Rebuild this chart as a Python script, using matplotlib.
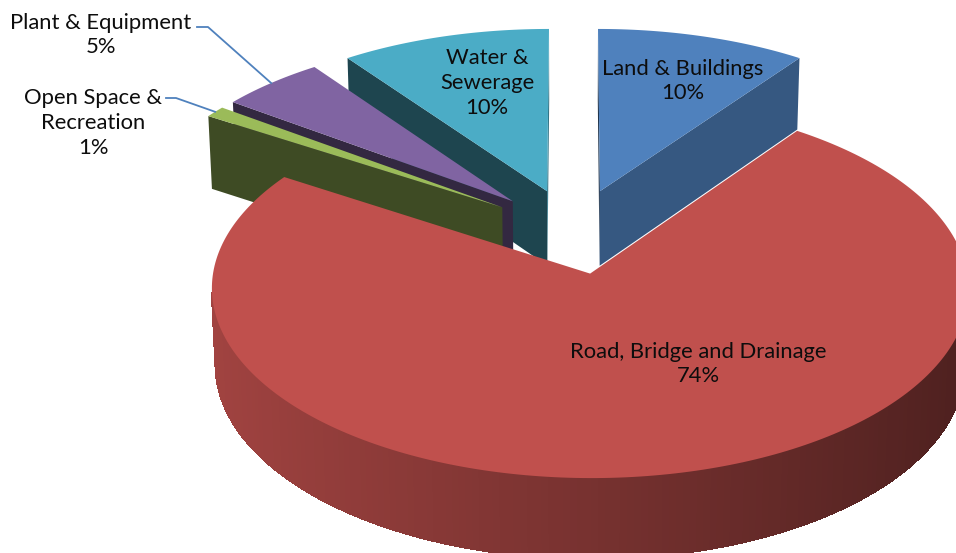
import numpy as np
import matplotlib.pyplot as plt
from matplotlib.patches import Polygon
from matplotlib.colors import to_rgb

# Data
categories = ["Land & Buildings", "Road, Bridge and Drainage",
              "Open Space &\nRecreation", "Plant & Equipment", "Water &\nSewerage"]
shares = [10, 74, 1, 5, 10]
colors = ["#4F81BD", "#C0504D", "#9BBB59", "#8064A2", "#4BACC6"]

# label layout (pixel centres) and leader elbows for outside labels
label_pos = [(683, 81), (698, 364), (93, 123), (101, 35), (487, 83)]
leaders = {2: [(166, 98), (176, 98)], 3: [(197, 27), (208, 27)]}

W, H = 956, 553

# simple perspective camera for the 3D pie (pie radius = 1)
elev = np.radians(29.3)
dist = 11.0
focal = 4072
x0, y0 = 573.5, 231
explode = 0.235
thick = 0.236

cam = np.array([0.0, -dist * np.cos(elev), dist * np.sin(elev)])
fwd = np.array([0.0, np.cos(elev), -np.sin(elev)])
up = np.array([0.0, np.sin(elev), np.cos(elev)])


def project(pts):
    pts = np.atleast_2d(pts)
    rel = pts - cam
    d = rel @ fwd
    return np.column_stack([x0 + focal * rel[:, 0] / d, y0 - focal * (rel @ up) / d])


def facing(normal, point):
    return np.dot(cam - point, normal) > 0


def shade(c, f):
    return tuple(np.array(to_rgb(c)) * f)


fig = plt.figure(figsize=(W / 100, H / 100), dpi=100)
ax = fig.add_axes([0, 0, 1, 1])
ax.set_xlim(0, W)
ax.set_ylim(H, 0)
ax.axis("off")

fracs = np.array(shares) / sum(shares)
bounds = np.concatenate([[0], np.cumsum(fracs)]) * 2 * np.pi

slices = []
for i in range(len(shares)):
    t0, t1 = bounds[i], bounds[i + 1]
    tm = (t0 + t1) / 2
    c = explode * np.array([np.sin(tm), np.cos(tm), 0.0])
    slices.append((i, t0, t1, c))
# far slices first
slices.sort(key=lambda s: -((s[3] - cam) @ fwd))

dz = np.array([0, 0, -thick])
for i, t0, t1, c in slices:
    n = max(int((t1 - t0) / np.radians(1)), 2)
    th = np.linspace(t0, t1, n + 1)
    rim = c + np.column_stack([np.sin(th), np.cos(th), np.zeros_like(th)])

    # radial cut faces
    for p, nrm in [(rim[0], np.array([-np.cos(t0), np.sin(t0), 0])),
                   (rim[-1], np.array([np.cos(t1), -np.sin(t1), 0]))]:
        quad = np.array([c, p, p + dz, c + dz])
        if facing(nrm, quad.mean(axis=0)):
            f = 0.68 if nrm[0] > 0 else 0.40
            ax.add_patch(Polygon(project(quad), closed=True,
                                 fc=shade(colors[i], f), ec="none"))

    # outer wall, shaded left (light) to right (dark)
    for j in range(n):
        tmj = (th[j] + th[j + 1]) / 2
        nrm = np.array([np.sin(tmj), np.cos(tmj), 0])
        quad = np.array([rim[j], rim[j + 1], rim[j + 1] + dz, rim[j] + dz])
        if facing(nrm, quad.mean(axis=0)):
            col = shade(colors[i], 0.62 - 0.22 * np.sin(tmj))
            ax.add_patch(Polygon(project(quad), closed=True, fc=col, ec=col,
                                 lw=1.0, antialiased=False))

    top = np.vstack([c, rim])
    ax.add_patch(Polygon(project(top), closed=True, fc=colors[i], ec="none"))

# labels
for i, (x, y) in enumerate(label_pos):
    ax.text(x, y, f"{categories[i]}\n{shares[i]}%", ha="center", va="center",
            fontsize=15.8, family="Lato", linespacing=1.3, color="#0d0d0d")

# leader lines to the small slices
for i, elbow in leaders.items():
    t0, t1 = bounds[i], bounds[i + 1]
    tm = (t0 + t1) / 2
    c = explode * np.array([np.sin(tm), np.cos(tm), 0.0])
    end = project(c + np.array([np.sin(tm), np.cos(tm), 0.0]))[0]
    xs = [p[0] for p in elbow] + [end[0]]
    ys = [p[1] for p in elbow] + [end[1]]
    ax.plot(xs, ys, color="#4F81BD", lw=1.3)

fig.savefig("out.png", dpi=100)
